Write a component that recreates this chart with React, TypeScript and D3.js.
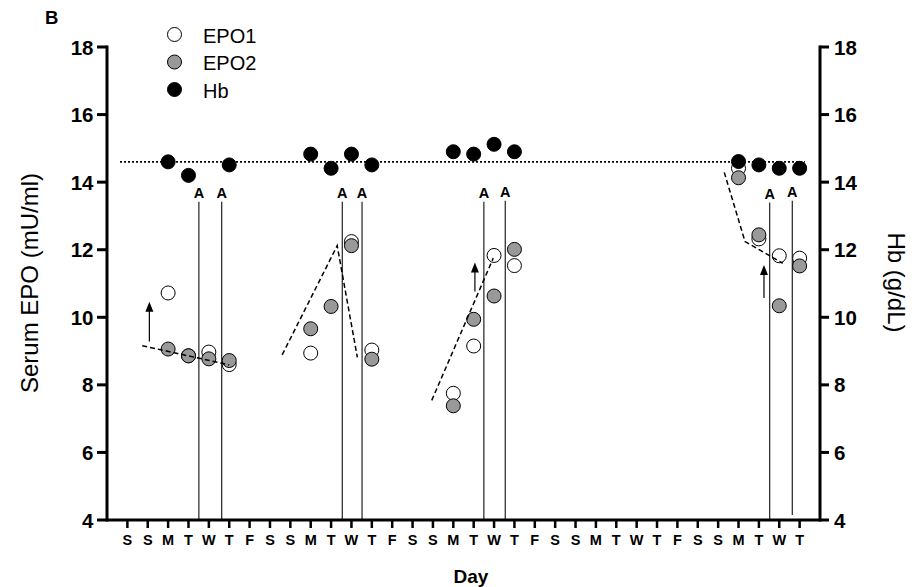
import React from 'react';
import * as d3 from 'd3';

const days = [
  'S', 'S', 'M', 'T', 'W', 'T', 'F',
  'S', 'S', 'M', 'T', 'W', 'T', 'F',
  'S', 'S', 'M', 'T', 'W', 'T', 'F',
  'S', 'S', 'M', 'T', 'W', 'T', 'F',
  'S', 'S', 'M', 'T', 'W', 'T',
];
const yTicks = [4, 6, 8, 10, 12, 14, 16, 18];

// [day index, value]
const epo1 = [
  [2, 10.72], [3, 8.86], [4, 8.97], [5, 8.6],
  [9, 8.94], [11, 12.24], [12, 9.03],
  [16, 7.75], [17, 9.15], [18, 11.83], [19, 11.53],
  [30, 14.41], [31, 12.32], [32, 11.82], [33, 11.75],
];
const epo2 = [
  [2, 9.06], [3, 8.86], [4, 8.77], [5, 8.72],
  [9, 9.66], [10, 10.32], [11, 12.12], [12, 8.76],
  [16, 7.38], [17, 9.94], [18, 10.63], [19, 12.01],
  [30, 14.13], [31, 12.44], [32, 10.34], [33, 11.52],
];
const hb = [
  [2, 14.6], [3, 14.2], [5, 14.51],
  [9, 14.83], [10, 14.41], [11, 14.83], [12, 14.51],
  [16, 14.9], [17, 14.83], [18, 15.12], [19, 14.9],
  [30, 14.61], [31, 14.51], [32, 14.41], [33, 14.41],
];
const hbRef = 14.6;
const hbRefRange = [-0.36, 33.26];

// administration lines "A": [x, top, bottom]
const adminLines = [
  [3.51, 13.42, 4], [4.63, 13.42, 4],
  [10.55, 13.42, 4], [11.52, 13.42, 4],
  [17.5, 13.42, 4], [18.55, 13.45, 4],
  [31.53, 13.4, 4], [32.64, 13.45, 4.15],
];

const trends = [
  [[0.73, 9.16], [5.0, 8.59]],
  [[7.6, 8.89], [10.3, 12.12], [11.29, 8.81]],
  [[14.94, 7.54], [17.96, 11.75]],
  [[29.3, 14.29], [30.32, 12.24], [32.17, 11.6]],
];

// arrows: [x, from, to]
const arrows = [
  [1.08, 9.28, 10.46],
  [17.06, 10.76, 11.62],
  [31.25, 10.57, 11.55],
];

const font = 'Liberation Sans, Arial, Helvetica, sans-serif';

export default function App() {
  const width = 920;
  const height = 587;
  const left = 107;
  const right = 820;
  const top = 47;
  const bottom = 520;

  const x = d3.scaleLinear().domain([-1, 34]).range([left, right]);
  const y = d3.scaleLinear().domain([4, 18]).range([bottom, top]);
  const line = d3.line<number[]>().x((d) => x(d[0])).y((d) => y(d[1]));

  const r = 7;

  return (
    <svg width={width} height={height} style={{ position: 'absolute', left: 0, top: 0, background: '#fff' }} fontFamily={font}>
      <text x={45} y={23.5} fontSize={18.5} fontWeight="bold">B</text>

      {/* legend */}
      {[['EPO1', '#fff'], ['EPO2', '#999'], ['Hb', '#000']].map(([name, fill], i) => (
        <g key={name}>
          <circle cx={174.5} cy={34.5 + i * 27.5} r={r} fill={fill} stroke="#000" strokeWidth={1} />
          <text x={203} y={42.5 + i * 27.5} fontSize={20}>{name}</text>
        </g>
      ))}

      {/* admin lines */}
      {adminLines.map((d, i) => (
        <g key={i}>
          <line x1={x(d[0])} x2={x(d[0])} y1={y(d[1])} y2={y(d[2])} stroke="#222" strokeWidth={1.2} />
          <text x={x(d[0])} y={y(d[1]) - 3.5} textAnchor="middle" fontSize={14.5} fontWeight="bold">A</text>
        </g>
      ))}

      {/* reference line */}
      <line x1={x(hbRefRange[0])} x2={x(hbRefRange[1])} y1={y(hbRef)} y2={y(hbRef)} stroke="#000" strokeWidth={1.8} strokeDasharray="2,2" />

      {epo1.map((d, i) => (
        <circle key={'a' + i} cx={x(d[0])} cy={y(d[1])} r={r} fill="#fff" stroke="#000" strokeWidth={1} />
      ))}
      {epo2.map((d, i) => (
        <circle key={'b' + i} cx={x(d[0])} cy={y(d[1])} r={r} fill="#999" stroke="#000" strokeWidth={1} />
      ))}
      {hb.map((d, i) => (
        <circle key={'c' + i} cx={x(d[0])} cy={y(d[1])} r={r} fill="#000" stroke="#000" strokeWidth={1} />
      ))}

      {trends.map((t, i) => (
        <path key={i} d={line(t) || ''} fill="none" stroke="#000" strokeWidth={1.5} strokeDasharray="5,3" />
      ))}

      {arrows.map((a, i) => {
        const ax = x(a[0]);
        const y0 = y(a[1]);
        const y1 = y(a[2]);
        return (
          <g key={i}>
            <line x1={ax} x2={ax} y1={y0} y2={y1 + 8} stroke="#000" strokeWidth={1.2} />
            <path d={`M${ax},${y1} L${ax - 4},${y1 + 10} L${ax + 4},${y1 + 10} Z`} fill="#000" />
          </g>
        );
      })}

      {/* axes */}
      <g stroke="#000" strokeWidth={3} fill="none">
        <line x1={left} x2={left} y1={top - 1.5} y2={bottom + 1.5} />
        <line x1={right} x2={right} y1={top - 1.5} y2={bottom + 1.5} />
        <line x1={left} x2={right} y1={bottom} y2={bottom} />
      </g>
      {yTicks.map((t) => (
        <g key={t}>
          <line x1={left - 10} x2={left} y1={y(t)} y2={y(t)} stroke="#000" strokeWidth={3} />
          <text x={93.5} y={y(t) + 7.5} textAnchor="end" fontSize={20.5} fontWeight="bold">{t}</text>
          <line x1={right} x2={right + 9} y1={y(t)} y2={y(t)} stroke="#000" strokeWidth={3} />
          <text x={834} y={y(t) + 7.5} textAnchor="start" fontSize={20.5} fontWeight="bold">{t}</text>
        </g>
      ))}
      {days.map((d, i) => (
        <g key={i}>
          <line x1={x(i)} x2={x(i)} y1={bottom} y2={bottom + 8} stroke="#000" strokeWidth={2.5} />
          <text x={x(i)} y={545} textAnchor="middle" fontSize={14.5} fontWeight="bold">{d}</text>
        </g>
      ))}

      <text x={471} y={583} textAnchor="middle" fontSize={19} fontWeight="bold">Day</text>
      <text transform={`translate(37.5,283) rotate(-90)`} textAnchor="middle" fontSize={24}>Serum EPO (mU/ml)</text>
      <text transform={`translate(888,282.5) rotate(90)`} textAnchor="middle" fontSize={24}>Hb (g/dL)</text>
    </svg>
  );
}
